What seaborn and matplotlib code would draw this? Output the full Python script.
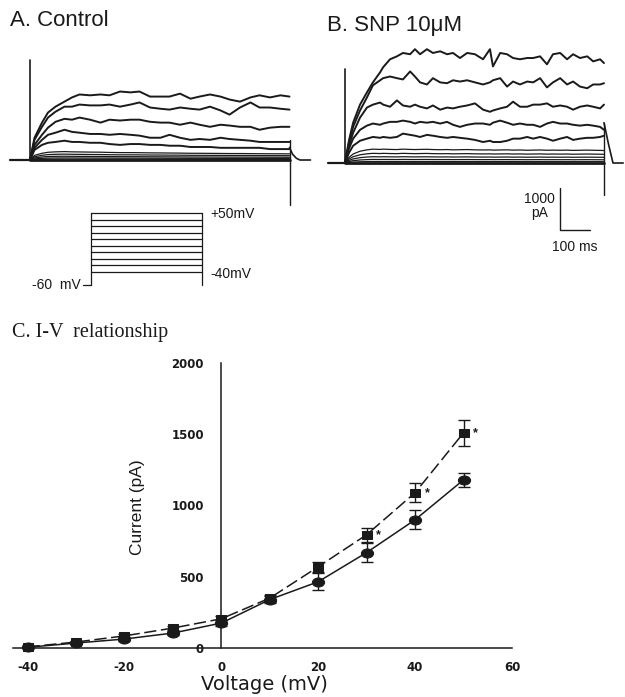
import matplotlib
matplotlib.use("Agg")
import pandas as pd
import seaborn as sns
import matplotlib.pyplot as plt
from matplotlib.markers import MarkerStyle
from matplotlib.transforms import Affine2D

# ------------------------------DATOS------------------------------

t_a = [0, 15, 40, 60, 85, 115, 140, 165, 200, 235, 265, 300, 335, 365, 400,
       435, 465, 500, 535, 565, 600, 635, 665, 700, 735, 765, 800, 835, 865]
ctrl_1 = [0, 530, 890, 1130, 1270, 1390, 1490, 1560, 1540, 1560, 1540, 1630, 1610, 1630, 1510,
          1510, 1510, 1580, 1460, 1510, 1560, 1510, 1440, 1390, 1490, 1540, 1490, 1540, 1510]
ctrl_2 = [0, 480, 790, 1010, 1150, 1270, 1270, 1320, 1300, 1300, 1320, 1270, 1320, 1370, 1250,
          1220, 1200, 1250, 1220, 1200, 1270, 1180, 1080, 1250, 1370, 1250, 1250, 1220, 1200]
ctrl_3 = [0, 360, 600, 770, 910, 980, 960, 1010, 960, 890, 960, 940, 960, 960, 910,
          890, 890, 840, 890, 840, 790, 840, 820, 790, 790, 720, 770, 790, 790]
ctrl_4 = [0, 290, 480, 600, 650, 720, 670, 650, 620, 620, 600, 620, 600, 580, 530,
          530, 600, 530, 480, 500, 480, 530, 500, 480, 460, 430, 430, 430, 430]
ctrl_5 = [0, 240, 360, 410, 430, 460, 430, 430, 410, 410, 380, 360, 380, 380, 360,
          360, 340, 340, 310, 310, 310, 290, 290, 290, 290, 290, 260, 260, 260]
# trazos pequeños: nivel (pA) y perfil de activación relativo
ctrl_niveles = [200, 140, 90, 50, 20]
ctrl_perfil = [0, .55, .8, .92, .97, 1, .97, .96, .94, .93, .9, .88, .88, .87, .85,
               .84, .83, .82, .8, .8, .79, .78, .77, .77, .76, .75, .74, .74, .73]
ctrl_pico_on = 2380
ctrl_pico_off = [-1080, 480]
ctrl_t_cola = [865, 875, 888, 900, 935]
ctrl_cola = [300, 140, 40, 0, 0]

# B. SNP 10 uM
t_b = [0, 13, 27, 50, 73, 93, 117, 127, 150, 173, 193, 217, 233, 250, 273, 293, 317, 340, 360, 383,
       407, 433, 460, 483, 493, 517, 540, 560, 583, 607, 627, 650, 673, 693, 717, 740, 760, 783,
       807, 827, 850, 863]
snp_1 = [0, 530, 960, 1390, 1680, 1920, 2160, 2280, 2470, 2540, 2620, 2590, 2710, 2590, 2710, 2620,
         2660, 2590, 2620, 2500, 2620, 2590, 2470, 2710, 2300, 2620, 2590, 2500, 2470, 2500, 2500,
         2540, 2350, 2590, 2620, 2470, 2590, 2500, 2540, 2420, 2470, 2380]
snp_2 = [0, 480, 860, 1250, 1560, 1850, 1970, 2020, 2060, 2020, 1990, 2180, 2060, 1920, 1870, 2020,
         1920, 1900, 1970, 1940, 1970, 1920, 1870, 1920, 1970, 2020, 1820, 1940, 1870, 1940, 1920,
         2020, 1800, 1920, 2020, 1870, 1940, 1820, 1780, 1870, 1870, 1900]
snp_3 = [0, 410, 720, 1080, 1320, 1390, 1440, 1390, 1340, 1490, 1370, 1340, 1390, 1340, 1300, 1370,
         1270, 1320, 1300, 1340, 1370, 1420, 1270, 1220, 1250, 1300, 1340, 1460, 1340, 1340, 1390,
         1390, 1420, 1340, 1370, 1340, 1270, 1340, 1370, 1340, 1300, 1390]
snp_4 = [0, 340, 580, 790, 890, 940, 910, 940, 980, 980, 1010, 980, 940, 980, 960, 980,
         940, 980, 910, 860, 910, 940, 940, 910, 960, 1010, 960, 910, 940, 910, 910,
         860, 940, 980, 940, 940, 910, 890, 910, 890, 860, 790]
snp_5 = [0, 240, 410, 530, 580, 620, 600, 620, 600, 620, 700, 670, 650, 620, 670, 650,
         620, 600, 620, 600, 580, 550, 500, 530, 500, 500, 530, 580, 580, 620, 580,
         620, 580, 530, 580, 620, 550, 580, 600, 600, 620, 650]
snp_niveles = [330, 230, 150, 85, 35]
snp_perfil = [0, .4, .65, .85, .95, 1, .98, 1, .98, .97, 1, .98, .97, .98, .99, .97, .96, .97, .95,
              .96, .97, .95, .94, .95, .93, .94, .95, .93, .94, .92, .93, .94, .92, .93, .92, .93,
              .91, .92, .93, .92, .91, .9]
snp_pico_on = 2230
snp_pico_off = [-760, 960]
snp_t_cola = [863, 878, 893, 927]
snp_cola = [960, 450, 0, 0]

# protocolo de voltaje (mV)
pasos_mv = [-40, -30, -20, -10, 0, 10, 20, 30, 40, 50]
holding_mv = -60
duracion_paso = 800

# C. Relación I-V
voltaje = [-40, -30, -20, -10, 0, 10, 20, 30, 40, 50]
control = [5, 35, 63, 105, 175, 340, 465, 670, 900, 1180]
control_err = [8, 10, 12, 15, 20, 25, 60, 65, 65, 50]
snp = [8, 42, 85, 140, 205, 350, 570, 795, 1090, 1510]
snp_err = [8, 10, 12, 15, 20, 25, 35, 50, 65, 90]
voltajes_sig = [30, 40, 50]

# ------------------------------FIGURA------------------------------
sns.set_theme(style="white")
plt.rcParams['font.family'] = ['Liberation Sans', 'DejaVu Sans']
plt.rcParams['text.color'] = 'k'
plt.rcParams['axes.labelcolor'] = 'k'
plt.rcParams['axes.unicode_minus'] = False

W, H = 625, 697
fig = plt.figure(figsize=(W / 100, H / 100), dpi=100)


def caja(x0, y0, x1, y1):
    """Convierte una caja en píxeles (origen arriba-izquierda) a coordenadas de figura."""
    return [x0 / W, 1 - y1 / H, (x1 - x0) / W, (y1 - y0) / H]


def dibujar_trazos(ax, t, trazos, niveles, perfil, t_pre, pico_on, pico_off, t_cola, cola):
    """Dibuja una familia de corrientes con su artefacto capacitivo."""
    ax.plot([t_pre, 0], [0, 0], color='k', lw=1.6)
    ax.plot([0, 0], [0, pico_on], color='k', lw=1.2)
    for nv in niveles:
        ax.plot(t, [nv * f for f in perfil], color='k', lw=0.9)
    for tr in trazos:
        ax.plot(t, tr, color='k', lw=1.4)
    ax.plot([0, t[-1]], [0, 0], color='k', lw=2.0)
    ax.plot([t[-1], t[-1]], pico_off, color='k', lw=1.0)
    ax.plot(t_cola, cola, color='k', lw=1.2)
    ax.axis('off')


# -------------Panel A-------------
ax_a = fig.add_axes(caja(0, 40, 315, 300))
ax_a.set_xlim(-100, 950)
ax_a.set_ylim(-3333, 2857)
dibujar_trazos(ax_a, t_a, [ctrl_1, ctrl_2, ctrl_3, ctrl_4, ctrl_5], ctrl_niveles, ctrl_perfil,
               -67, ctrl_pico_on, ctrl_pico_off, ctrl_t_cola, ctrl_cola)

# protocolo
ax_p = fig.add_axes(caja(0, 195, 315, 300))
ax_p.set_xlim(-654.5, 1614.5)
ax_p.set_ylim(-82.7, 77.4)
ax_p.patch.set_alpha(0)
for v in pasos_mv:
    ax_p.plot([0, duracion_paso], [v, v], color='k', lw=0.9)
ax_p.plot([-58, 0, 0], [holding_mv, holding_mv, max(pasos_mv)], color='k', lw=0.9)
ax_p.plot([duracion_paso, duracion_paso], [max(pasos_mv), holding_mv], color='k', lw=0.9)
ax_p.text(860, 48, '+50mV', fontsize=10, va='center', ha='left')
ax_p.text(860, -43, '-40mV', fontsize=10, va='center', ha='left')
ax_p.text(-73, holding_mv, '-60  mV', fontsize=10, va='center', ha='right')
ax_p.axis('off')

# -------------Panel B-------------
ax_b = fig.add_axes(caja(318, 40, 625, 300))
ax_b.set_xlim(-90, 933)
ax_b.set_ylim(-3262, 2929)
dibujar_trazos(ax_b, t_b, [snp_1, snp_2, snp_3, snp_4, snp_5], snp_niveles, snp_perfil,
               -57, snp_pico_on, snp_pico_off, snp_t_cola, snp_cola)
# barra de escala
ax_b.plot([717, 717, 817], [-595, -1595, -1595], color='k', lw=1.0)
ax_b.text(700, -1030, '1000\npA', fontsize=10, ha='right', va='center',
          multialignment='center', linespacing=1.0)
ax_b.text(767, -2000, '100 ms', fontsize=10, ha='center', va='center')

fig.text(10 / W, 1 - 20 / H, 'A. Control', fontsize=16, va='center')
fig.text(327 / W, 1 - 25 / H, 'B. SNP 10μM', fontsize=16, va='center')
fig.text(12 / W, 1 - 333 / H, 'C. I-V  relationship', fontsize=14.5, va='center',
         family=['Liberation Serif', 'DejaVu Serif'])

# -------------Panel C-------------
ax = fig.add_axes(caja(13, 355, 515, 655))
ax.patch.set_alpha(0)
df = pd.DataFrame({'voltaje': voltaje, 'control': control, 'snp': snp})

circulo = MarkerStyle('o', transform=Affine2D().scale(1.35, 1.0))
cuadrado = MarkerStyle('s', transform=Affine2D().scale(1.4, 1.0))

ax.errorbar(voltaje, control, yerr=control_err, fmt='none', ecolor='k',
            elinewidth=1.0, capsize=4, capthick=1.0)
ax.errorbar(voltaje, snp, yerr=snp_err, fmt='none', ecolor='k',
            elinewidth=1.0, capsize=4, capthick=1.0)
sns.lineplot(data=df, x='voltaje', y='control', ax=ax, color='k', lw=1.1,
             marker=circulo, markersize=6.5, markeredgecolor='k', errorbar=None, legend=False)
sns.lineplot(data=df, x='voltaje', y='snp', ax=ax, color='k', lw=1.1, linestyle=(0, (8, 3)),
             marker=cuadrado, markersize=5.5, markeredgecolor='k', errorbar=None, legend=False)

for v in voltajes_sig:
    i = voltaje.index(v)
    ax.annotate('*', xy=(v, snp[i]), xytext=(7, 0), textcoords='offset points',
                fontsize=9, fontweight='bold', va='center')

ax.set_xlim(-43, 60.62)
ax.set_ylim(-49, 2056)
for lado in ['top', 'right']:
    ax.spines[lado].set_visible(False)
ax.spines['left'].set_position(('data', 0))
ax.spines['left'].set_bounds(0, 2000)
ax.spines['bottom'].set_position(('data', 0))
ax.spines['bottom'].set_bounds(-43, 60)
for lado in ['left', 'bottom']:
    ax.spines[lado].set_color('k')
    ax.spines[lado].set_linewidth(1.1)

ax.set_xticks([-40, -20, 0, 20, 40, 60])
ax.set_yticks([0, 500, 1000, 1500, 2000])
ax.tick_params(axis='y', direction='inout', length=13, width=1.1, pad=6, colors='k')
ax.tick_params(axis='x', direction='inout', length=8, width=1.1, pad=5, colors='k')
for lab in ax.get_xticklabels() + ax.get_yticklabels():
    lab.set_family('DejaVu Sans')
    lab.set_fontweight('bold')
    lab.set_fontsize(8.5)

ax.set_ylabel('')
ax.set_xlabel('Voltage (mV)', fontsize=14, family='DejaVu Sans', labelpad=1)
ax.text(-17.4, 989, 'Current (pA)', rotation=90, ha='center', va='center', fontsize=12.5,
        family=['Liberation Sans Narrow', 'Liberation Sans', 'DejaVu Sans'])

fig.savefig('out.png', dpi=100)
